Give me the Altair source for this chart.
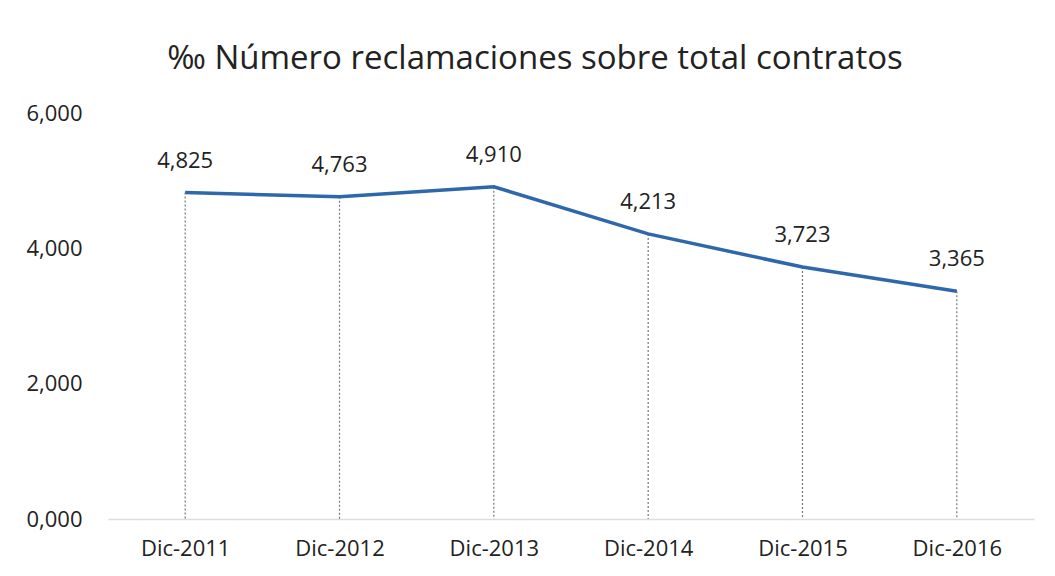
import altair as alt
import pandas as pd

periodos = ["Dic-2011", "Dic-2012", "Dic-2013", "Dic-2014", "Dic-2015", "Dic-2016"]
valores = [4.825, 4.763, 4.910, 4.213, 3.723, 3.365]
etiquetas = ["4,825", "4,763", "4,910", "4,213", "3,723", "3,365"]

df = pd.DataFrame({"periodo": periodos, "valor": valores, "etiqueta": etiquetas, "cero": [0] * 6})

FONT = "Open Sans"

x = alt.X("periodo:N", sort=periodos, title=None,
          scale=alt.Scale(type="point", padding=0.5),
          axis=alt.Axis(labelAngle=0, labelFontSize=22, labelColor="#222", labelPadding=19,
                        ticks=False, domainColor="#dddddd", domainWidth=1.5, labelFont=FONT))
y = alt.Y("valor:Q", title=None,
          scale=alt.Scale(domain=[0, 6], nice=False),
          axis=alt.Axis(values=[0, 2, 4, 6], labelExpr="replace(format(datum.value, '.3f'), '.', ',')",
                        labelFontSize=22, labelColor="#222", labelPadding=26, grid=False,
                        ticks=False, domain=False, labelFont=FONT))

base = alt.Chart(df)

drop = base.mark_rule(color="#777777", strokeDash=[2, 2], strokeWidth=1.2).encode(
    x=x, y=y, y2="cero:Q")

line = base.mark_line(color="#2f68aa", strokeWidth=3.5).encode(x=x, y=y)

labels = base.mark_text(dy=-32, fontSize=22, color="#222", font=FONT).encode(
    x=x, y=y, text="etiqueta:N")

chart = (drop + line + labels).properties(
    width=926, height=406,
    title=alt.TitleParams("‰ Número reclamaciones sobre total contratos", fontSize=33,
                          font=FONT, fontWeight="normal", color="#222", anchor="middle",
                          offset=26, dx=-36),
    autosize=alt.AutoSizeParams(type="none"),
    padding={"left": 108, "top": 113, "right": 21, "bottom": 57},
).configure(background="white").configure_view(strokeWidth=0)

chart.save("out.html", embed_options={"renderer": "svg", "actions": False})
